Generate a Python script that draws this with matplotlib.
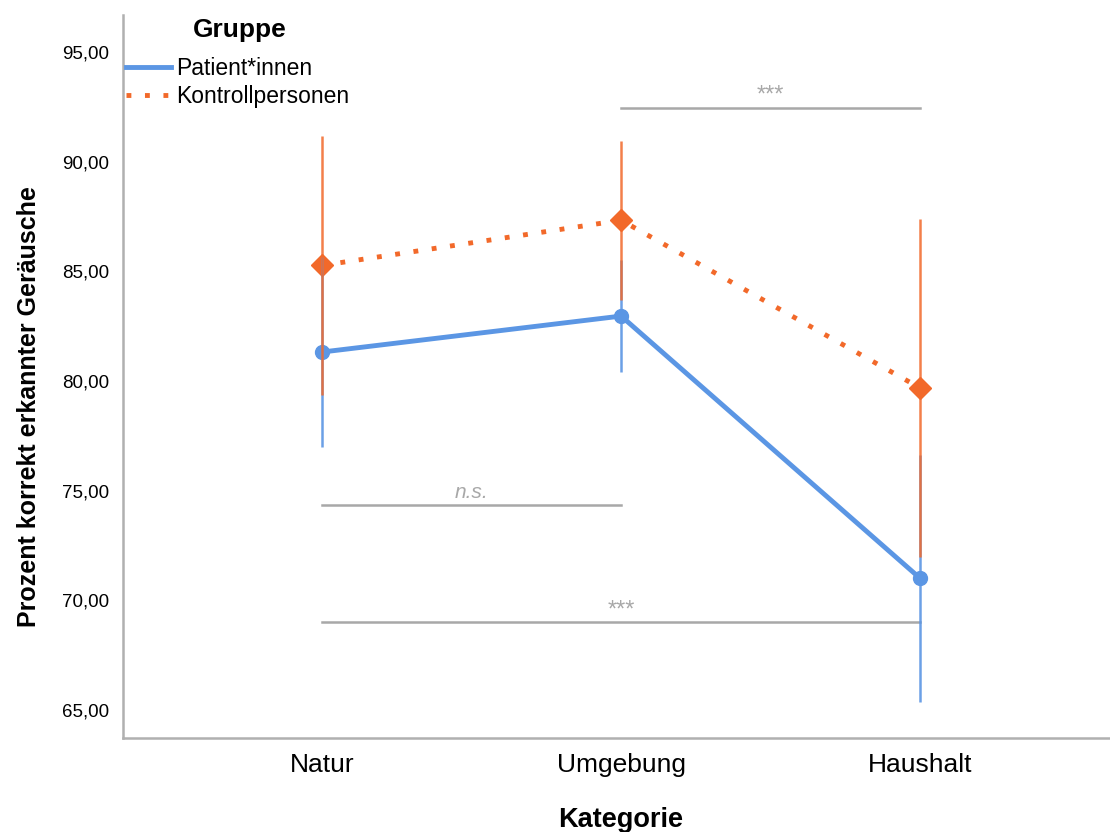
import matplotlib
matplotlib.use("Agg")
import matplotlib.pyplot as plt
from matplotlib.lines import Line2D

plt.rcParams['font.family'] = ['Liberation Sans', 'DejaVu Sans']

categories = ["Natur", "Umgebung", "Haushalt"]
patient_mean = [81.32, 82.96, 71.00]
patient_err = [4.35, 2.56, 5.64]
control_mean = [85.27, 87.33, 79.68]
control_err = [5.90, 3.62, 7.72]
yticks = [65, 70, 75, 80, 85, 90, 95]

# significance brackets: (start category, end category, height, label, italic)
brackets = [
    (1, 2, 92.45, "***", False),
    (0, 1, 74.35, "n.s.", True),
    (0, 2, 69.00, "***", False),
]

blue = "#5B96E4"
orange = "#F2692A"
grey = "#A8A8A8"
dotted = (0, (1, 2.8))

fig = plt.figure(figsize=(11.1, 8.32), dpi=100)
ax = fig.add_axes([0.1108, 0.113, 0.8892, 0.869])

x = list(range(len(categories)))

ax.plot(x, patient_mean, color=blue, lw=3.5, marker="o", ms=10, zorder=3,
        solid_capstyle="round")
ax.plot(x, control_mean, color=orange, lw=3.5, ls=dotted, marker="D",
        ms=11, zorder=3)

ax.errorbar(x, patient_mean, yerr=patient_err, fmt="none", ecolor=blue,
            elinewidth=1.8, capsize=0, zorder=4, alpha=0.9)
ax.errorbar(x, control_mean, yerr=control_err, fmt="none", ecolor=orange,
            elinewidth=1.8, capsize=0, zorder=5, alpha=0.85)

for a, b, h, label, italic in brackets:
    ax.plot([a, b], [h, h], color=grey, lw=1.8, zorder=2)
    if italic:
        ax.text((a + b) / 2, h + 0.12, label, ha="center", va="bottom",
                color=grey, fontsize=15, style="italic")
    else:
        ax.text((a + b) / 2, h + 0.05, label, ha="center", va="bottom",
                color=grey, fontsize=17)

ax.set_xlim(-0.666, 2.635)
ax.set_ylim(63.72, 96.69)
ax.set_xticks(x)
ax.set_xticklabels(categories, fontsize=19)
ax.set_yticks(yticks)
ax.set_yticklabels([f"{v:.2f}".replace(".", ",") for v in yticks], fontsize=13.5)
ax.tick_params(axis="both", length=0)
ax.tick_params(axis="x", pad=11)
ax.tick_params(axis="y", pad=10)

for side in ["top", "right"]:
    ax.spines[side].set_visible(False)
for side in ["left", "bottom"]:
    ax.spines[side].set_color("#B0B0B0")
    ax.spines[side].set_linewidth(1.8)

ax.set_xlabel("Kategorie", fontsize=19.5, fontweight="bold")
ax.xaxis.set_label_coords(0.5046, -0.096)
ax.set_ylabel("Prozent korrekt erkannter Geräusche", fontsize=18,
              fontweight="bold")
ax.yaxis.set_label_coords(-0.083, 0.459)

handles = [
    Line2D([], [], color=blue, lw=3.5),
    Line2D([], [], color=orange, lw=3.5, ls=dotted),
]
fig.legend(handles, ["Patient*innen", "Kontrollpersonen"],
           loc="upper left", bbox_to_anchor=(126 / 1110, 1 - 57 / 832),
           frameon=False, fontsize=16.5, handlelength=1.95, handletextpad=0.25,
           labelspacing=0.22, borderaxespad=0, borderpad=0)
fig.text(240 / 1110, 1 - 30 / 832, "Gruppe", ha="center", va="center",
         fontsize=19, fontweight="bold")

fig.savefig("out.png", dpi=100)
